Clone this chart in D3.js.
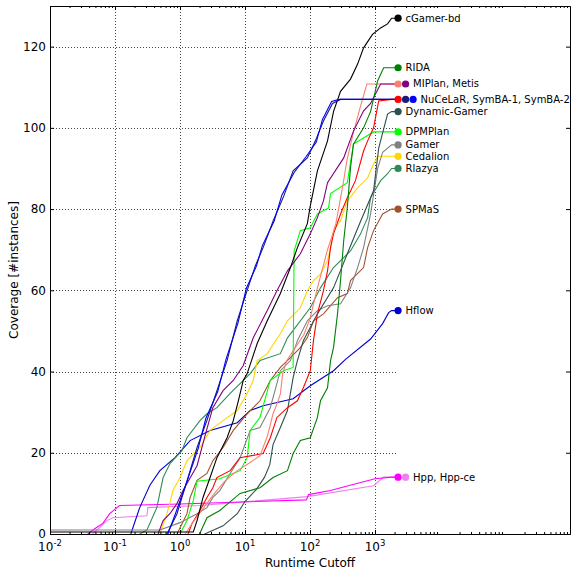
<!DOCTYPE html>
<html>
<head>
<meta charset="utf-8">
<script src="https://cdn.jsdelivr.net/npm/d3@7"></script>
<style>
body { margin: 0; background: #fff; }
svg { font-family: "DejaVu Sans", sans-serif; }
</style>
</head>
<body>
<svg width="571" height="572"></svg>
<script>
// [runtime cutoff (s), coverage]
var cGamerBd = [[0.01,0.5],[1.6,0.5],[1.83,3.3],[2.26,9],[2.9,13.9],[3.7,18.8],[5.3,23.7],[6.6,27.9],[7.9,32.8],[9.4,37.8],[10.8,39.5],[15.4,46.9],[22,52.5],[35,59.2],[50,65.6],[64,70.5],[91,76.4],[101,80.8],[130,89.4],[186,96.8],[230,104],[295,109],[420,112],[540,115.7],[667,119.7],[915,123],[1220,124.6],[1560,125.6],[1800,127]];
var rida = [[2.0,0],[2.6,4],[4.1,5.8],[8.4,10],[17,11.4],[27,13.9],[45,15.6],[55,19.8],[71,23],[101,23.7],[130,28.7],[145,32.8],[186,36],[207,42.7],[230,45.9],[265,54.2],[295,62.4],[330,72.2],[375,80.3],[420,90.2],[466,96],[667,100],[855,104],[1100,111.6],[1360,114.8],[1800,114.8]];
var miplan = [[1.2,0],[1.6,3],[2.2,6],[3.2,9.5],[4.9,13],[7.6,15.6],[12,17.6],[17,19.3],[22,24],[27,29.6],[31,32],[35,34.5],[38,39.5],[44,42.7],[60,46],[80,49],[100,53],[130,60.6],[160,66],[186,70],[215,73],[250,76.4],[290,82],[322,86],[370,92],[460,98.5],[590,105],[750,110.8],[1800,110.8]];
var metis = [[0.46,0],[0.55,3.3],[0.7,5],[0.9,7.5],[1.11,10.7],[1.83,16.8],[2.43,24.2],[3.2,31.1],[4.6,35.3],[6.6,37.8],[9.4,41.5],[13.4,48.3],[22,55],[31,59.9],[45,64.8],[71,69],[101,73.9],[130,77.9],[161,82],[186,86.5],[330,92.6],[466,99.2],[667,104.2],[855,106],[1220,110.8],[1800,110.8]];
var nucelar = [[1.33,0],[1.53,2.6],[2.03,5.8],[2.6,9],[3.2,11.4],[3.7,13.9],[5.9,15.6],[8.4,18.8],[19,19.8],[24.5,23.7],[31,28.7],[45,31.1],[64,32.8],[79,36],[101,40.2],[113,47.6],[130,54.2],[161,59.9],[186,64.8],[207,70.5],[230,73.9],[295,78.8],[375,82.8],[500,87],[667,94.3],[770,96.8],[950,100],[1140,106.6],[1800,107]];
var symba1 = [[0.63,0],[0.9,5],[1.28,13],[1.83,21.3],[2.6,28],[3.7,35.3],[5.3,42.7],[7.6,52.5],[10.8,60],[14.4,66],[19,70.5],[27,77],[39,83],[55,89.4],[91,92.6],[121,96.8],[161,101.7],[222,106],[295,107],[1800,107]];
var symba2 = [[0.65,0],[0.85,5],[1.25,12.5],[1.9,21],[2.5,28.5],[3.8,35],[5.1,43],[7.8,52],[10.5,60.5],[15,66],[18.5,71],[28,77],[37,83.5],[57,89],[88,93],[125,96.5],[155,102],[215,106.5],[280,107],[1800,107]];
var dynamicGamer = [[2.4,0],[4.6,2],[7.6,5],[10,8],[15,11],[20,14],[24,17],[27,22],[35,26.2],[45,30.4],[55,38.5],[64,42.7],[79,47.6],[130,54.2],[230,60.6],[375,69],[600,77],[950,84.5],[1140,95],[1560,103.4],[1800,104]];
var dpmplan = [[1.0,0],[1.28,3.3],[1.6,8.2],[1.83,13],[4.1,13.6],[8.4,15.6],[10.8,18.8],[12,25.5],[17,28.7],[24.5,37.8],[39,40.2],[55,41],[57,69.7],[71,74.7],[101,75.4],[130,78.8],[193,80.3],[207,83.8],[375,86.5],[466,96],[950,99],[1800,99]];
var gamer = [[0.01,1],[0.49,1],[1.0,2.8],[1.83,5],[2.6,6.5],[3.2,9],[4.1,10.7],[5.9,14.9],[8.4,18.8],[12,25.5],[17,26.2],[24.5,31.1],[35,40.2],[50,42.7],[64,47.6],[91,52.5],[130,55],[186,56.2],[295,56.7],[420,60.6],[540,65.6],[667,70.5],[855,78.8],[1100,90],[1310,94],[1800,95.8]];
var cedalion = [[0.49,0],[0.63,5],[0.78,10.7],[1.0,13.9],[1.28,18],[2.03,21.3],[2.9,25.5],[4.6,27.9],[7.6,30.4],[10.8,34.6],[13.4,37.8],[15.4,42.7],[22,44.4],[35,49.3],[45,52.5],[71,55.7],[91,59.9],[113,62.4],[145,64],[186,67.3],[207,70.5],[230,74.7],[295,77.1],[375,82],[540,85.2],[770,87.7],[950,91.1],[1100,93],[1800,93]];
var rlazya = [[0.24,0],[0.31,1],[0.44,6.5],[0.55,13.9],[0.7,17.3],[1.07,20.5],[1.28,23.7],[2.03,27.9],[2.6,29.6],[3.7,31.1],[5.9,34.6],[8.4,37],[12,39.5],[17,42.7],[35,44.4],[45,48.3],[101,55.7],[145,60.6],[230,65.6],[420,69.7],[600,73.9],[770,77.9],[855,82.8],[1220,87],[1560,88.7],[1800,90]];
var spmas = [[0.9,0],[1.28,5],[1.43,9],[1.83,13.2],[2.6,14.9],[3.2,18],[4.6,21.3],[6.6,25.5],[10.8,29.6],[17,32.8],[24.5,37.8],[35,41],[50,43.4],[71,45.9],[91,48.3],[113,52.5],[161,54.2],[265,58.2],[375,59.2],[420,62.4],[667,65.6],[770,70.5],[950,74.7],[1310,78.8],[1800,80]];
var hflow = [[0.175,0],[0.24,6.5],[0.344,12],[0.49,15.6],[0.84,18.8],[1.43,23],[2.9,25.5],[7.6,27.4],[12,30.4],[19,31.6],[55,33.3],[101,36.5],[230,40.2],[352,43],[855,48],[1310,51.8],[1620,54.5],[1800,55]];
var hpp = [[0.038,0],[0.052,1.6],[0.065,2.6],[0.083,5],[0.107,6.5],[0.118,7],[1.0,7.4],[88,8.4],[95,9.7],[207,10.7],[350,11.7],[1000,13.6],[1800,14]];
var hppCe = [[0.045,0],[0.058,1.6],[0.075,3.3],[0.093,4],[0.31,4.5],[0.32,6.5],[2.03,7],[91,9.2],[950,11.9],[1360,14],[1800,14]];

var legendGroups = [
    ["cGamer-bd"], ["RIDA"], ["MIPlan", "Metis"], ["NuCeLaR", "SymBA-1", "SymBA-2"],
    ["Dynamic-Gamer"], ["DPMPlan"], ["Gamer"], ["Cedalion"], ["Rlazya"],
    ["SPMaS"], ["Hflow"], ["Hpp", "Hpp-ce"]
];
var xTickValues = [0.01, 0.1, 1, 10, 100, 1000];
var yTickValues = [0, 20, 40, 60, 80, 100, 120];

var seriesValues = {
    "cGamer-bd": cGamerBd, "RIDA": rida, "MIPlan": miplan, "Metis": metis,
    "NuCeLaR": nucelar, "SymBA-1": symba1, "SymBA-2": symba2,
    "Dynamic-Gamer": dynamicGamer, "DPMPlan": dpmplan, "Gamer": gamer,
    "Cedalion": cedalion, "Rlazya": rlazya, "SPMaS": spmas, "Hflow": hflow,
    "Hpp": hpp, "Hpp-ce": hppCe
};

var colors = {
    "cGamer-bd": "#000000", "RIDA": "#008000", "MIPlan": "#fa8072", "Metis": "#800080",
    "NuCeLaR": "#ff0000", "SymBA-1": "#1c1c78", "SymBA-2": "#0000ff",
    "Dynamic-Gamer": "#2f4f4f", "DPMPlan": "#00ff00", "Gamer": "#808080",
    "Cedalion": "#ffd700", "Rlazya": "#2e8b57", "SPMaS": "#a0522d", "Hflow": "#0000cd",
    "Hpp": "#ff00ff", "Hpp-ce": "#ee82ee"
};

var drawOrder = ["Hpp-ce", "Hpp", "Hflow", "SPMaS", "Rlazya", "Cedalion", "Gamer", "DPMPlan",
    "Dynamic-Gamer", "NuCeLaR", "MIPlan", "Metis", "RIDA", "cGamer-bd", "SymBA-1", "SymBA-2"];

var plotLeft = 50, plotRight = 570, plotTop = 6, plotBottom = 534;

var svg = d3.select('svg');

var x = d3.scaleLog().domain([0.01, 1e6]).range([plotLeft, plotRight]);
var y = d3.scaleLinear().domain([0, 130]).range([plotBottom, plotTop]);

var legendX = x(1800) + 6.5;

// grid
var grid = svg.append('g')
    .attr('stroke', '#444')
    .attr('stroke-width', 1)
    .attr('stroke-dasharray', '1,2');

grid.selectAll('.vg')
    .data(xTickValues.slice(1))
    .enter().append('line')
    .attr('x1', function (d) { return Math.round(x(d)) + 0.5; })
    .attr('x2', function (d) { return Math.round(x(d)) + 0.5; })
    .attr('y1', plotTop)
    .attr('y2', plotBottom);

grid.selectAll('.hg')
    .data(yTickValues.slice(1))
    .enter().append('line')
    .attr('x1', plotLeft)
    .attr('x2', legendX - 2)
    .attr('y1', function (d) { return Math.round(y(d)) + 0.5; })
    .attr('y2', function (d) { return Math.round(y(d)) + 0.5; });

// series
var line = d3.line()
    .x(function (d) { return x(d[0]); })
    .y(function (d) { return y(d[1]); });

svg.append('g')
    .selectAll('path')
    .data(drawOrder)
    .enter().append('path')
    .attr('d', function (name) {
        var v = seriesValues[name];
        return line(v) + 'H' + legendX;
    })
    .attr('fill', 'none')
    .attr('stroke', function (name) { return colors[name]; })
    .attr('stroke-width', 1.1);

// axes (ticks inside)
var minorTicks = x.ticks().filter(function (d) {
    var e = Math.log10(d);
    return Math.abs(e - Math.round(e)) > 1e-6;
});

function styleAxis(g) {
    g.selectAll('path.domain').attr('stroke', '#000');
    g.selectAll('line').attr('stroke', '#000');
}

[[d3.axisBottom, plotBottom], [d3.axisTop, plotTop]].forEach(function (a) {
    svg.append('g')
        .attr('transform', 'translate(0,' + a[1] + ')')
        .call(a[0](x).tickValues(xTickValues).tickSizeInner(-4).tickSizeOuter(0).tickFormat(''))
        .call(styleAxis);
    svg.append('g')
        .attr('transform', 'translate(0,' + a[1] + ')')
        .call(a[0](x).tickValues(minorTicks).tickSizeInner(-2).tickSizeOuter(0).tickFormat(''))
        .call(styleAxis);
});

svg.append('g')
    .attr('transform', 'translate(' + plotLeft + ',0)')
    .call(d3.axisLeft(y).tickValues(yTickValues).tickSizeInner(-4).tickSizeOuter(0).tickPadding(4))
    .call(styleAxis)
    .selectAll('text')
    .style('font-size', '12px')
    .style('font-family', 'DejaVu Sans')
    .attr('fill', '#000');

svg.append('g')
    .attr('transform', 'translate(' + plotRight + ',0)')
    .call(d3.axisRight(y).tickValues(yTickValues).tickSizeInner(-4).tickSizeOuter(0).tickFormat(''))
    .call(styleAxis);

// x tick labels with superscript exponents
var xl = svg.append('g').selectAll('text')
    .data(xTickValues)
    .enter().append('text')
    .attr('x', function (d) { return x(d); })
    .attr('y', plotBottom + 17)
    .attr('text-anchor', 'middle')
    .style('font-size', '12px');
xl.append('tspan').text('10');
xl.append('tspan')
    .attr('dy', -5)
    .style('font-size', '8.5px')
    .text(function (d) { return Math.round(Math.log10(d)); });

// axis titles
svg.append('text')
    .attr('x', (plotLeft + plotRight) / 2)
    .attr('y', 567)
    .attr('text-anchor', 'middle')
    .style('font-size', '12px')
    .text('Runtime Cutoff');

svg.append('text')
    .attr('transform', 'translate(18,' + (plotTop + plotBottom) / 2 + ') rotate(-90)')
    .attr('text-anchor', 'middle')
    .style('font-size', '12px')
    .text('Coverage [#instances]');

// legend at the end of each curve
var legend = svg.append('g')
    .selectAll('g')
    .data(legendGroups)
    .enter().append('g')
    .attr('transform', function (grp) {
        var v = seriesValues[grp[0]];
        return 'translate(' + legendX + ',' + y(v[v.length - 1][1]) + ')';
    });

legend.selectAll('circle')
    .data(function (grp) { return grp; })
    .enter().append('circle')
    .attr('cx', function (d, i) { return i * 7.5; })
    .attr('cy', 0)
    .attr('r', 3.6)
    .attr('fill', function (d) { return colors[d]; });

legend.append('text')
    .attr('x', function (grp) { return (grp.length - 1) * 7.5 + 7.5; })
    .attr('dy', '0.35em')
    .style('font-size', '10px')
    .text(function (grp) { return grp.join(', '); });
</script>
</body>
</html>
